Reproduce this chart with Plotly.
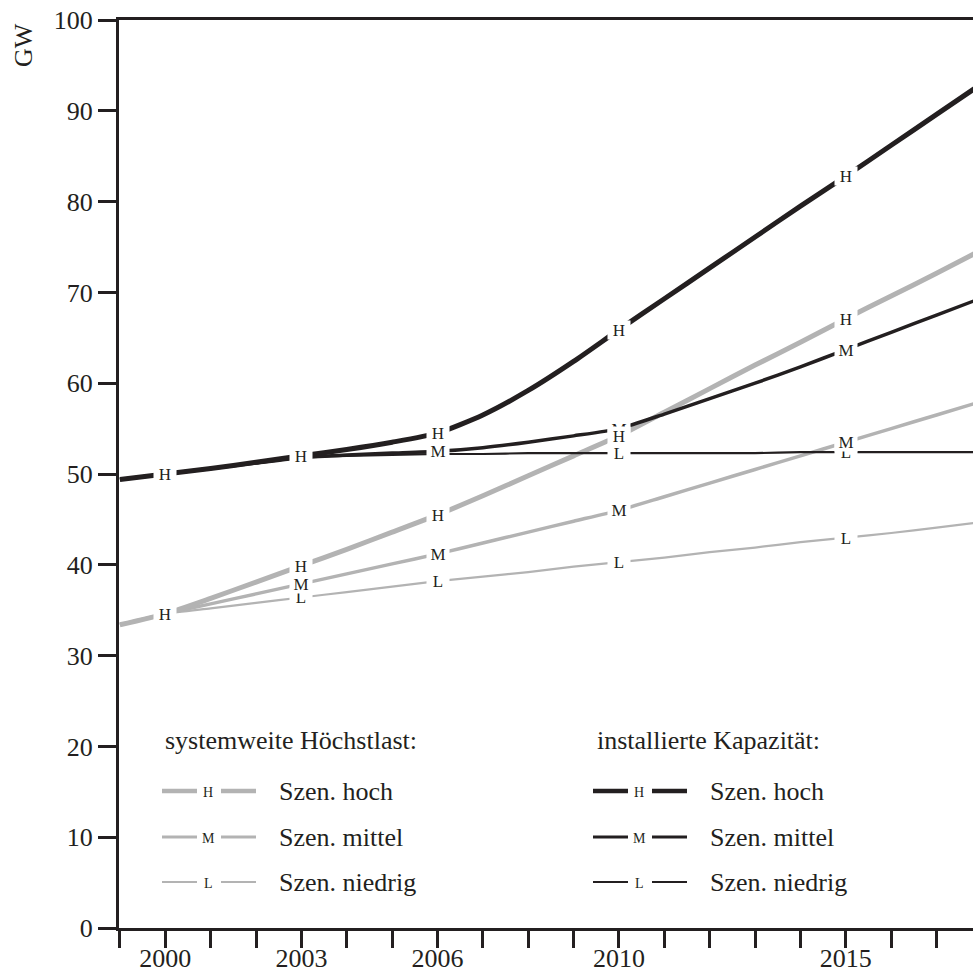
import plotly.graph_objects as go

# ---------------- data ----------------
years = [1999, 2000, 2001, 2002, 2003, 2004, 2005, 2006, 2007, 2008,
         2009, 2010, 2011, 2012, 2013, 2014, 2015, 2016, 2017, 2018]

# installierte Kapazität (black)
cap_H = [49.4, 50.0, 50.6, 51.3, 52.0, 52.7, 53.5, 54.5, 56.5, 59.2,
         62.4, 65.9, 69.3, 72.7, 76.1, 79.5, 82.8, 86.2, 89.6, 93.0]
cap_M = [49.4, 50.0, 50.6, 51.2, 51.8, 52.1, 52.3, 52.5, 52.9, 53.5,
         54.2, 55.0, 56.6, 58.3, 60.0, 61.8, 63.7, 65.6, 67.5, 69.4]
cap_L = [49.4, 50.0, 50.6, 51.2, 51.8, 52.0, 52.1, 52.2, 52.2, 52.3,
         52.3, 52.3, 52.3, 52.3, 52.3, 52.4, 52.4, 52.4, 52.4, 52.4]

# systemweite Höchstlast (grey)
load_H = [33.4, 34.6, 36.3, 38.1, 39.9, 41.7, 43.6, 45.5, 47.6, 49.8,
          52.0, 54.2, 56.8, 59.4, 62.0, 64.5, 67.1, 69.6, 72.1, 74.7]
load_M = [33.4, 34.6, 35.7, 36.8, 37.9, 39.0, 40.1, 41.2, 42.4, 43.6,
          44.8, 46.0, 47.5, 49.0, 50.5, 52.0, 53.5, 55.0, 56.5, 58.0]
load_L = [33.4, 34.6, 35.2, 35.8, 36.4, 37.0, 37.6, 38.2, 38.7, 39.2,
          39.8, 40.3, 40.8, 41.4, 41.9, 42.5, 43.0, 43.5, 44.1, 44.7]

# years at which the scenario letter is written on the line
labels_cap_H = [2000, 2003, 2006, 2010, 2015]
labels_cap_M = [2006, 2010, 2015]
labels_cap_L = [2010, 2015]
labels_load_H = [2000, 2003, 2006, 2010, 2015]
labels_load_M = [2003, 2006, 2010, 2015]
labels_load_L = [2003, 2006, 2010, 2015]

x_tick_years = list(range(1999, 2018))
x_tick_labelled = [2000, 2003, 2006, 2010, 2015]
y_ticks = [0, 10, 20, 30, 40, 50, 60, 70, 80, 90, 100]

legend_load_title = "systemweite Höchstlast:"
legend_cap_title = "installierte Kapazität:"
legend_names = ["Szen. hoch", "Szen. mittel", "Szen. niedrig"]
legend_letters = ["H", "M", "L"]
y_title = "GW"

# ---------------- styling ----------------
BLACK = "#231f20"
GREY = "#b3b3b3"
FONT = "Liberation Serif"
widths = {"H": 5, "M": 3.5, "L": 2.2}

W, H = 973, 970
ML, MR, MT, MB = 119, 0, 20, 42
PW, PH = W - ML - MR, H - MT - MB


def pxx(x):
    return (x - ML) / PW


def pxy(y):
    return (H - MB - y) / PH


fig = go.Figure()

series = [
    ("load", "L", load_L, GREY), ("load", "M", load_M, GREY), ("load", "H", load_H, GREY),
    ("cap", "L", cap_L, BLACK), ("cap", "M", cap_M, BLACK), ("cap", "H", cap_H, BLACK),
]
for grp, sc, vals, col in series:
    fig.add_trace(go.Scatter(
        x=years, y=vals, mode="lines",
        line=dict(color=col, width=widths[sc], shape="spline", smoothing=0.6),
        showlegend=False, hoverinfo="skip", cliponaxis=True,
    ))

annotations = []
label_sets = [
    ("L", cap_L, labels_cap_L), ("M", cap_M, labels_cap_M), ("H", cap_H, labels_cap_H),
    ("L", load_L, labels_load_L), ("M", load_M, labels_load_M), ("H", load_H, labels_load_H),
]
for letter, vals, yrs in label_sets:
    for yr in yrs:
        v = vals[years.index(yr)]
        annotations.append(dict(
            x=yr, y=v, xref="x", yref="y", text=letter, showarrow=False,
            font=dict(family=FONT, size=17, color=BLACK),
            bgcolor="white", borderpad=0, width=22, height=18,
            xanchor="center", yanchor="middle",
        ))

# y-axis title
annotations.append(dict(
    x=pxx(23), y=pxy(45), xref="paper", yref="paper", text=y_title,
    showarrow=False, textangle=-90, font=dict(family=FONT, size=26, color=BLACK),
    xanchor="center", yanchor="middle",
))

# custom legend
shapes = []
legend_cols = [
    (legend_load_title, GREY, 163, 162, 197, 208, 221, 256, 277),
    (legend_cap_title, BLACK, 595, 593, 628, 639, 652, 687, 708),
]
row_y = [791, 837, 882]
seg_w = {"H": 4.5, "M": 3.2, "L": 2}
for title, col, tx, s1a, s1b, lx, s2a, s2b, nx in legend_cols:
    annotations.append(dict(
        x=pxx(tx), y=pxy(740), xref="paper", yref="paper", text=title,
        showarrow=False, xanchor="left", yanchor="middle",
        font=dict(family=FONT, size=26, color=BLACK),
    ))
    for letter, name, ry in zip(legend_letters, legend_names, row_y):
        for a, b in ((s1a, s1b), (s2a, s2b)):
            shapes.append(dict(
                type="line", xref="paper", yref="paper",
                x0=pxx(a), x1=pxx(b), y0=pxy(ry), y1=pxy(ry),
                line=dict(color=col, width=seg_w[letter]),
            ))
        annotations.append(dict(
            x=pxx(lx), y=pxy(ry + 1), xref="paper", yref="paper", text=letter,
            showarrow=False, xanchor="center", yanchor="middle",
            font=dict(family=FONT, size=14, color=BLACK),
        ))
        annotations.append(dict(
            x=pxx(nx), y=pxy(ry), xref="paper", yref="paper", text=name,
            showarrow=False, xanchor="left", yanchor="middle",
            font=dict(family=FONT, size=26, color=BLACK),
        ))

fig.update_layout(
    width=W, height=H,
    margin=dict(l=ML, r=MR, t=MT, b=MB, pad=0, autoexpand=False),
    paper_bgcolor="white", plot_bgcolor="white",
    font=dict(family=FONT, size=26, color=BLACK),
    annotations=annotations, shapes=shapes,
    xaxis=dict(
        range=[1998.98, 1998.98 + PW / 45.37], automargin=False,
        tickmode="array", tickvals=x_tick_years,
        ticktext=[str(y) if y in x_tick_labelled else "" for y in x_tick_years],
        ticks="outside", ticklen=17, tickwidth=2.5, tickcolor=BLACK,
        ticklabelstandoff=-12,
        showline=True, linewidth=3, linecolor=BLACK, mirror=True,
        showgrid=False, zeroline=False,
        tickfont=dict(family=FONT, size=26, color=BLACK),
    ),
    yaxis=dict(
        range=[0, 100], tickmode="array", tickvals=y_ticks, automargin=False,
        ticks="outside", ticklen=18, tickwidth=3, tickcolor=BLACK,
        showline=True, linewidth=3, linecolor=BLACK,
        showgrid=False, zeroline=False,
        tickfont=dict(family=FONT, size=26, color=BLACK),
    ),
)

fig.write_html("out.html")
